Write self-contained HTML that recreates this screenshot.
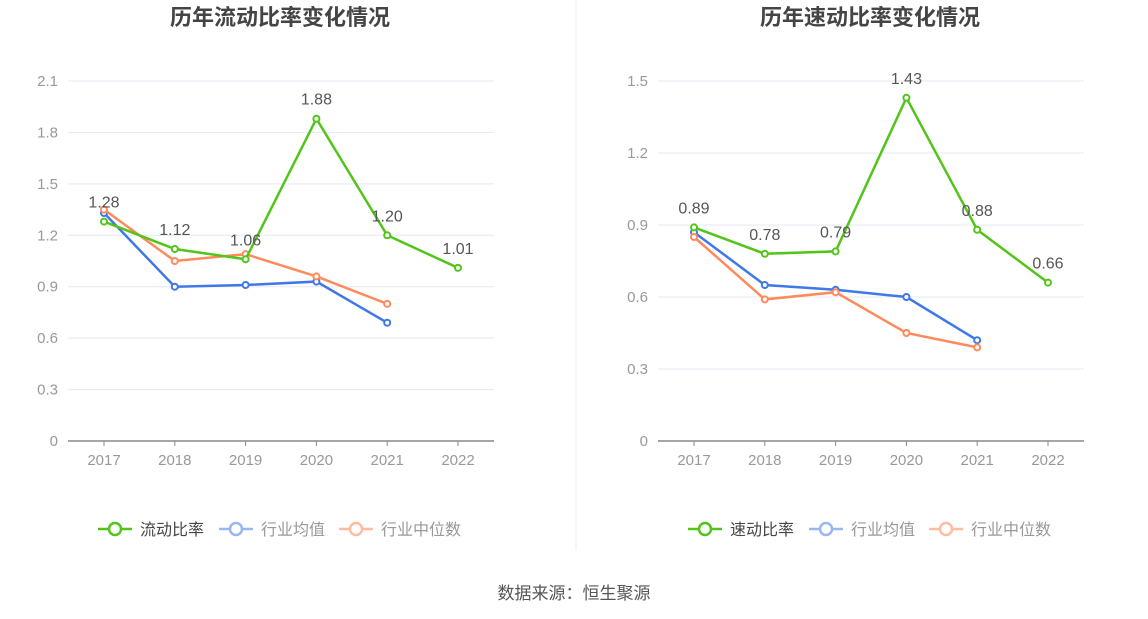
<!DOCTYPE html>
<html><head><meta charset="utf-8"><style>
body{margin:0;background:#fff;width:1148px;height:619px;overflow:hidden;font-family:"Liberation Sans","Noto Sans CJK SC",sans-serif;}
svg{position:absolute;left:0;top:0}
</style></head><body>
<svg id="s" width="1148" height="619"></svg>
<script>
const years=["2017","2018","2019","2020","2021","2022"];
const leftGreen=[1.28,1.12,1.06,1.88,1.20,1.01];
const leftBlue=[1.33,0.90,0.91,0.93,0.69];
const leftOrange=[1.35,1.05,1.09,0.96,0.80];
const leftTicks=["0","0.3","0.6","0.9","1.2","1.5","1.8","2.1"];
const rightGreen=[0.89,0.78,0.79,1.43,0.88,0.66];
const rightBlue=[0.87,0.65,0.63,0.60,0.42];
const rightOrange=[0.85,0.59,0.62,0.45,0.39];
const rightTicks=["0","0.3","0.6","0.9","1.2","1.5"];
const NS="http://www.w3.org/2000/svg";
const svg=document.getElementById('s');
function el(t,a,p,txt){const e=document.createElementNS(NS,t);for(const k in a)e.setAttribute(k,a[k]);if(txt!==undefined)e.textContent=txt;(p||svg).appendChild(e);return e;}
function chart(cfg){
  const g=el('g',{});
  
  
  const y0=441,yTop=81,max=+cfg.ticks[cfg.ticks.length-1];
  const Y=v=>y0-(v/max)*(y0-yTop);
  const X=i=>cfg.x0+i*70.8;
  const t=el('text',{x:cfg.cx,y:25,'text-anchor':'middle','font-size':22,'font-weight':'bold',fill:'#444'},g,cfg.title);
  
  
  cfg.ticks.forEach((tk,i)=>{
    const yy=Y(+tk);
    if(i>0){const l=el('line',{x1:cfg.x0-36,x2:cfg.x0+390,y1:yy,y2:yy,stroke:'#e6e8f0','stroke-width':1},g);
      }
    const tx=el('text',{x:cfg.x0-46,y:yy+5,'text-anchor':'end','font-size':15,fill:'#999'},g,tk);
    
  });
  const ax=el('line',{x1:cfg.x0-36,x2:cfg.x0+390,y1:y0,y2:y0,stroke:'#888','stroke-width':1.5},g);
  
  years.forEach((yr,i)=>{
    const tm=el('line',{x1:X(i),x2:X(i),y1:y0,y2:y0+5,stroke:'#888'},g);
    
    const tx=el('text',{x:X(i),y:465,'text-anchor':'middle','font-size':15,fill:'#999'},g,yr);
    
  });
  const series=[[cfg.blue,'#3f78e8','blue-series'],[cfg.orange,'#ff8a5c','orange-series'],[cfg.green,'#52c41a','green-series']];
  series.forEach(([d,c,n])=>{
    const p=el('polyline',{points:d.map((v,i)=>X(i)+','+Y(v)).join(' '),fill:'none',stroke:c,'stroke-width':2.5},g);
    
    d.forEach((v,i)=>{
      const ci=el('circle',{cx:X(i),cy:Y(v),r:3,fill:'#fff',stroke:c,'stroke-width':2},g);
      
    });
  });
  cfg.green.forEach((v,i)=>{
    const tx=el('text',{x:X(i),y:Y(v)-14,'text-anchor':'middle','font-size':16,fill:'#555'},g,v.toFixed(2));
    
  });
  const leg=[[cfg.lg,'#52c41a','#444',cfg.x0-6],['行业均值','#9ab7f3','#999',cfg.x0+115],['行业中位数','#ffbca3','#999',cfg.x0+235]];
  leg.forEach(([name,c,tc,lx])=>{
    const lg=el('g',{},g);
    
    el('line',{x1:lx,x2:lx+34,y1:529,y2:529,stroke:c,'stroke-width':2.5},lg);
    el('circle',{cx:lx+17,cy:529,r:6,fill:'#fff',stroke:c,'stroke-width':2.5},lg);
    el('text',{x:lx+42,y:535,'font-size':16,fill:tc},lg,name);
  });
}
chart({name:'current-ratio-chart',title:'历年流动比率变化情况',cx:280,x0:104,ticks:leftTicks,green:leftGreen,blue:leftBlue,orange:leftOrange,lg:'流动比率'});
chart({name:'quick-ratio-chart',title:'历年速动比率变化情况',cx:870,x0:694,ticks:rightTicks,green:rightGreen,blue:rightBlue,orange:rightOrange,lg:'速动比率'});
const dv=el('line',{x1:576,x2:576,y1:0,y2:550,stroke:'#eee','stroke-width':1});

const src=el('text',{x:574,y:599,'text-anchor':'middle','font-size':17,fill:'#555'},svg,'数据来源：恒生聚源');

</script>
</body></html>
